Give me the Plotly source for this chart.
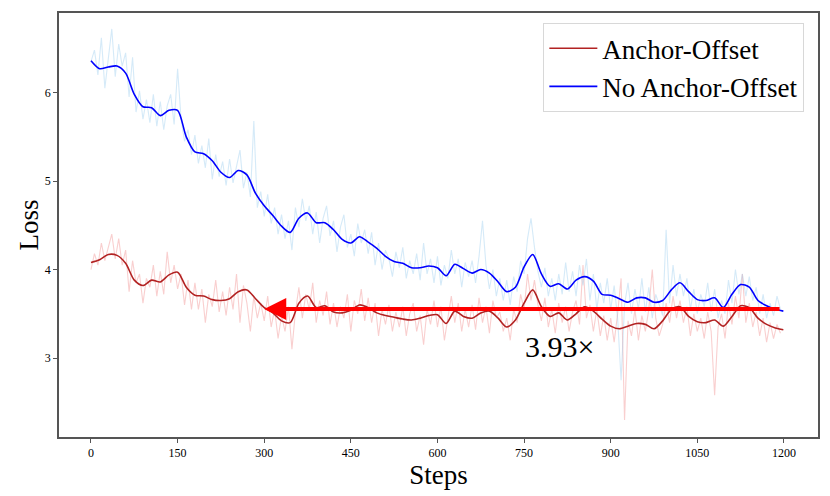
import plotly.graph_objects as go

# smoothed curves, sampled every 15 steps (+ last step)
smooth_steps = list(range(0, 1200, 15)) + [1199]
smooth_anchor = [
    4.08, 4.11, 4.17, 4.16, 4.07, 3.88, 3.82, 3.88, 3.86, 3.94,
    3.97, 3.80, 3.71, 3.70, 3.66, 3.65, 3.67, 3.75, 3.77, 3.67,
    3.57, 3.51, 3.42, 3.40, 3.62, 3.70, 3.57, 3.59, 3.52, 3.51,
    3.54, 3.60, 3.57, 3.51, 3.48, 3.46, 3.44, 3.43, 3.45, 3.48,
    3.49, 3.39, 3.53, 3.47, 3.45, 3.51, 3.53, 3.45, 3.35, 3.43,
    3.62, 3.77, 3.58, 3.47, 3.51, 3.43, 3.50, 3.58, 3.53, 3.44,
    3.36, 3.33, 3.36, 3.39, 3.38, 3.33, 3.42, 3.55, 3.58, 3.47,
    3.41, 3.40, 3.43, 3.36, 3.47, 3.59, 3.57, 3.45, 3.38, 3.34,
    3.32,
]
smooth_no_anchor = [
    6.36, 6.27, 6.29, 6.30, 6.22, 5.98, 5.84, 5.83, 5.74, 5.80,
    5.80, 5.50, 5.33, 5.31, 5.23, 5.10, 5.04, 5.12, 5.07, 4.86,
    4.72, 4.61, 4.49, 4.42, 4.58, 4.64, 4.53, 4.53, 4.45, 4.34,
    4.30, 4.37, 4.31, 4.24, 4.15, 4.09, 4.07, 4.02, 4.02, 4.04,
    4.02, 3.93, 4.06, 4.01, 3.96, 4.00, 3.96, 3.86, 3.75, 3.80,
    4.03, 4.17, 3.95, 3.81, 3.84, 3.78, 3.88, 3.92, 3.87, 3.72,
    3.71, 3.67, 3.63, 3.68, 3.68, 3.63, 3.65, 3.77, 3.85, 3.75,
    3.66, 3.65, 3.68, 3.57, 3.72, 3.83, 3.80, 3.65, 3.59, 3.55,
    3.53,
]

# raw (noisy) losses, sampled every 6 steps
raw_steps = list(range(0, 1200, 6))
raw_anchor = [
    4.00, 4.18, 4.05, 4.30, 4.10, 4.25, 4.40, 4.12, 4.35, 4.05,
    4.22, 3.75, 4.10, 3.85, 3.95, 3.62, 3.90, 3.80, 4.05, 3.70,
    3.98, 3.72, 4.20, 3.85, 4.05, 3.78, 3.95, 3.60, 3.88, 3.55,
    3.85, 3.55, 3.78, 3.40, 3.72, 3.58, 3.88, 3.52, 3.75, 3.48,
    3.80, 3.55, 3.95, 3.40, 3.82, 3.62, 3.30, 3.70, 3.45, 3.62,
    3.42, 3.70, 3.35, 3.55, 3.22, 3.48, 3.30, 3.58, 3.10, 3.52,
    3.80, 3.45, 3.72, 3.55, 3.85, 3.40, 3.65, 3.48, 3.75, 3.38,
    3.62, 3.35, 3.58, 3.45, 3.72, 3.30, 3.65, 3.50, 3.78, 3.42,
    3.68, 3.40, 3.62, 3.25, 3.55, 3.38, 3.60, 3.30, 3.52, 3.35,
    3.58, 3.25, 3.50, 3.62, 3.30, 3.48, 3.15, 3.55, 3.38, 3.65,
    3.35, 3.58, 3.20, 3.45, 3.70, 3.40, 3.62, 3.30, 3.55, 3.35,
    3.60, 3.32, 3.68, 3.40, 3.58, 3.28, 3.65, 3.45, 3.52, 3.30,
    3.45, 3.20, 3.55, 3.40, 3.72, 3.55, 3.95, 3.65, 3.88, 3.60,
    3.42, 3.68, 3.35, 3.55, 3.28, 3.62, 3.40, 3.58, 3.30, 3.52,
    3.65, 3.38, 4.05, 3.45, 3.60, 3.30, 3.55, 3.25, 3.48, 3.20,
    3.45, 3.18, 3.50, 3.90, 2.30, 3.42, 3.25, 3.55, 3.20, 3.48,
    3.30, 3.55, 4.00, 3.45, 3.25, 3.38, 3.62, 3.40, 3.70, 3.45,
    3.65, 3.40, 3.58, 3.25, 3.50, 3.30, 3.45, 3.22, 3.52, 3.30,
    2.58, 3.35, 3.50, 3.22, 3.62, 3.38, 3.70, 3.45, 3.95, 3.40,
    3.62, 3.35, 3.52, 3.25, 3.45, 3.18, 3.40, 3.22, 3.38, 3.28,
]
raw_no_anchor = [
    6.35, 6.48, 6.20, 6.62, 6.05, 6.41, 6.72, 6.18, 6.55, 6.30,
    6.45, 5.95, 6.40, 5.78, 6.02, 5.70, 5.92, 5.66, 5.98, 5.62,
    5.90, 5.58, 5.85, 5.98, 5.64, 6.27, 5.70, 5.45, 5.58, 5.30,
    5.52, 5.20, 5.40, 5.15, 5.48, 5.02, 5.30, 5.05, 5.22, 4.95,
    5.25, 4.98, 5.18, 5.35, 4.92, 5.10, 4.82, 5.68, 4.70, 4.88,
    4.60, 4.85, 4.52, 4.70, 4.40, 4.62, 4.35, 4.55, 4.22, 4.70,
    4.48, 4.80, 4.55, 4.72, 4.40, 4.65, 4.30, 4.58, 4.72, 4.38,
    4.55, 4.20, 4.48, 4.62, 4.25, 4.40, 4.15, 4.52, 4.30, 4.45,
    4.18, 4.42, 4.05, 4.30, 4.00, 4.22, 4.12, 3.92, 4.20, 4.02,
    4.25, 3.90, 4.10, 3.95, 4.18, 3.88, 4.30, 3.95, 4.12, 3.85,
    4.15, 3.82, 4.05, 3.90, 4.22, 3.95, 4.12, 3.80, 4.08, 3.92,
    4.10, 3.85, 4.15, 4.55, 4.05, 3.78, 4.00, 3.70, 3.90, 3.65,
    3.88, 3.60, 3.92, 3.75, 4.10, 3.95, 4.35, 4.58, 4.25, 3.98,
    3.80, 4.02, 3.70, 3.90, 3.65, 3.95, 3.72, 4.08, 3.75, 3.98,
    3.70, 4.05, 3.82, 4.12, 3.65, 3.95, 3.55, 3.85, 3.62, 3.90,
    3.55, 3.82, 3.45, 2.75, 3.60, 3.85, 3.50, 3.78, 3.55, 3.90,
    3.52, 3.80, 3.45, 3.72, 3.60, 3.48, 4.45, 3.62, 4.05, 3.70,
    3.95, 3.70, 3.90, 3.55, 3.78, 3.50, 3.72, 3.58, 3.85, 3.52,
    3.78, 3.45, 3.65, 3.50, 3.88, 3.62, 4.00, 3.72, 3.95, 3.70,
    3.92, 3.65, 3.80, 3.50, 3.72, 3.45, 3.62, 3.48, 3.70, 3.55,
]

arrow_y = 3.555
arrow_from, arrow_to = 1195, 300
speedup_label = "3.93×"

FONT = "Liberation Serif"

fig = go.Figure()
fig.add_trace(go.Scatter(x=raw_steps, y=raw_anchor, mode="lines",
                         line=dict(color="rgba(240,128,128,0.38)", width=1.1),
                         showlegend=False, hoverinfo="skip"))
fig.add_trace(go.Scatter(x=raw_steps, y=raw_no_anchor, mode="lines",
                         line=dict(color="rgba(135,195,235,0.35)", width=1.1),
                         showlegend=False, hoverinfo="skip"))
fig.add_trace(go.Scatter(x=smooth_steps, y=smooth_anchor, mode="lines", name="Anchor-Offset",
                         line=dict(color="#b22222", width=1.6, shape="spline", smoothing=0.8)))
fig.add_trace(go.Scatter(x=smooth_steps, y=smooth_no_anchor, mode="lines", name="No Anchor-Offset",
                         line=dict(color="#0000ff", width=1.6, shape="spline", smoothing=0.8)))

# speed-up arrow
fig.add_annotation(x=arrow_to, y=arrow_y, ax=arrow_from, ay=arrow_y,
                   xref="x", yref="y", axref="x", ayref="y",
                   showarrow=True, arrowhead=2, arrowsize=1.1, arrowwidth=4,
                   arrowcolor="#ff0000", text="")
fig.add_annotation(x=812, y=3.13, text=speedup_label, showarrow=False,
                   font=dict(family=FONT, size=30, color="black"))

# y-axis title placed by hand
fig.add_annotation(x=-0.039, y=0.50, xref="paper", yref="paper", text="Loss",
                   textangle=-90, showarrow=False, xanchor="center", yanchor="middle",
                   font=dict(family=FONT, size=27, color="black"))

fig.update_layout(
    width=830, height=496,
    margin=dict(l=51, r=20, t=5, b=67),
    plot_bgcolor="white", paper_bgcolor="white",
    font=dict(family=FONT, color="black"),
    legend=dict(x=0.982, y=0.976, xanchor="right", yanchor="top",
                bgcolor="white", bordercolor="#d8d8d8", borderwidth=1,
                font=dict(family=FONT, size=27, color="black"), itemwidth=48,
                tracegroupgap=0),
)
fig.update_xaxes(range=[-55.4, 1259], tickvals=list(range(0, 1201, 150)),
                 showgrid=False, zeroline=False, showline=True, mirror=True,
                 linecolor="#555", linewidth=1.5, ticks="outside", ticklen=4,
                 tickcolor="#555", tickfont=dict(size=12, color="black"), automargin=False,
                 title=dict(text="Steps", font=dict(size=27, color="black"), standoff=6))
fig.update_yaxes(range=[2.107, 6.90], tickvals=[3, 4, 5, 6],
                 showgrid=False, zeroline=False, showline=True, mirror=True,
                 linecolor="#555", linewidth=1.5, ticks="outside", ticklen=4,
                 tickcolor="#555", tickfont=dict(size=12, color="black"), automargin=False)

fig.write_html("out.html")
